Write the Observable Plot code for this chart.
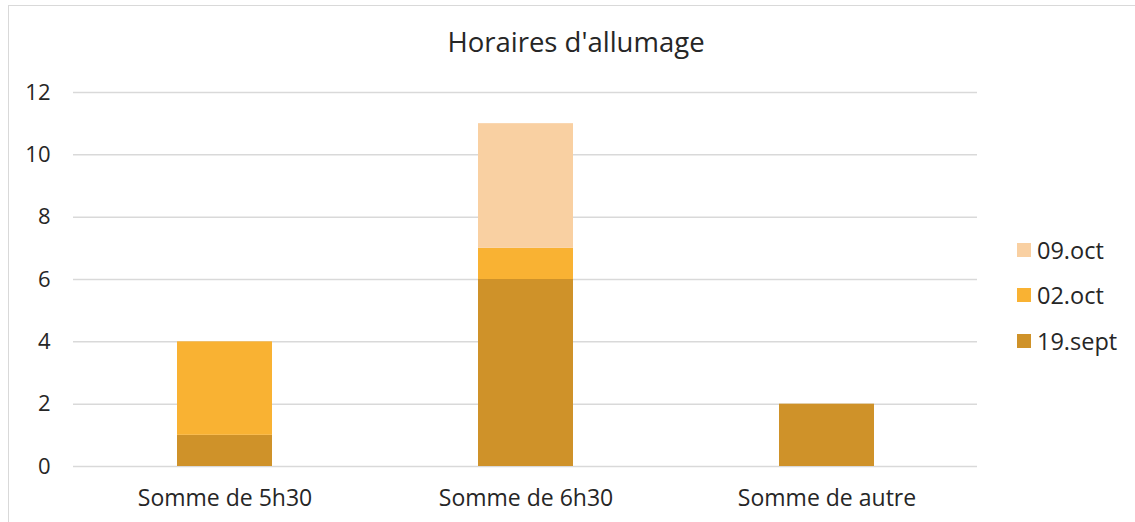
<!DOCTYPE html>
<html>
<head>
<meta charset="utf-8">
<script src="https://cdn.jsdelivr.net/npm/d3@7"></script>
<script src="https://cdn.jsdelivr.net/npm/@observablehq/plot@0.6"></script>
<style>
  html, body { margin: 0; padding: 0; background: #fff; }
  #wrap { position: relative; width: 1135px; height: 522px; overflow: hidden; font-family: "Open Sans", sans-serif; }
  #frame { position: absolute; left: 8px; top: 5px; width: 1140px; height: 530px; border: 1px solid #d9d9d9; box-sizing: border-box; }
  #title { position: absolute; left: 0; width: 1152px; top: 24px; text-align: center; font-size: 27.5px; color: #262626; line-height: 36px; }
  #legend { position: absolute; left: 1017px; top: 227px; font-size: 23.5px; color: #262626; }
  .li { display: flex; align-items: center; height: 45.5px; }
  .sw { width: 14px; height: 14px; margin-right: 6px; flex: none; }
  #chart { position: absolute; left: 0; top: 0; }
</style>
</head>
<body>
<div id="wrap">
  <div id="frame"></div>
  <div id="chart"></div>
  <div id="title">Horaires d'allumage</div>
  <div id="legend"></div>
</div>
<script>
const categories = ["Somme de 5h30", "Somme de 6h30", "Somme de autre"];
const series = ["19.sept", "02.oct", "09.oct"];
const colors = ["#CF9229", "#F9B233", "#F9D0A2"];
const sept19 = [1, 6, 2];
const oct02 = [3, 1, 0];
const oct09 = [0, 4, 0];
const yTicks = [0, 2, 4, 6, 8, 10, 12];

const valuesBySeries = [sept19, oct02, oct09];
const data = [];
series.forEach((s, si) => categories.forEach((c, ci) => {
  data.push({category: c, series: s, value: valuesBySeries[si][ci]});
}));

const chart = Plot.plot({
  width: 1135,
  height: 522,
  marginLeft: 73,
  marginRight: 158,
  marginTop: 92,
  marginBottom: 56,
  style: {fontFamily: "Open Sans, sans-serif", color: "#262626", background: "transparent"},
  x: {domain: categories, paddingInner: 0.685, paddingOuter: 0.3425, label: null},
  y: {domain: [0, 12], ticks: yTicks, label: null},
  color: {domain: series, range: colors},
  marks: [
    Plot.ruleY(yTicks, {stroke: "#d9d9d9", strokeWidth: 1.5}),
    Plot.barY(data, {x: "category", y: "value", fill: "series", order: series}),
    Plot.axisY({ticks: yTicks, tickSize: 0, tickPadding: 23, fontSize: 22, label: null}),
    Plot.axisX({tickSize: 0, tickPadding: 23, fontSize: 23, label: null})
  ]
});
document.getElementById("chart").appendChild(chart);

const legend = document.getElementById("legend");
for (let i = series.length - 1; i >= 0; i--) {
  const row = document.createElement("div");
  row.className = "li";
  const sw = document.createElement("div");
  sw.className = "sw";
  sw.style.background = colors[i];
  const t = document.createElement("span");
  t.textContent = series[i];
  row.appendChild(sw); row.appendChild(t);
  legend.appendChild(row);
}
</script>
</body>
</html>
